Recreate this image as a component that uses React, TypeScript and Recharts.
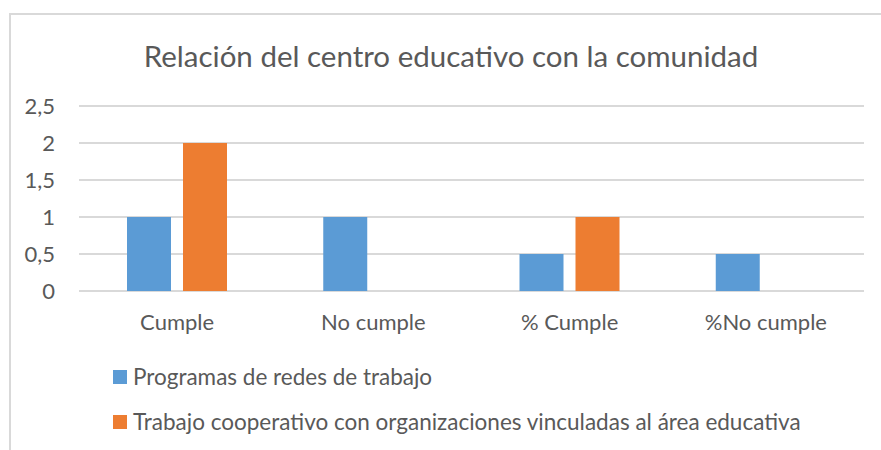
import { Bar, BarChart, CartesianGrid, XAxis, YAxis } from 'recharts'

const categories = ['Cumple', 'No cumple', '% Cumple', '%No cumple']
const programasRedes = [1, 1, 0.5, 0.5]
const trabajoCooperativo = [2, 0, 1, 0]
const yTicks = [0, 0.5, 1, 1.5, 2, 2.5]

const seriesNames = [
  'Programas de redes de trabajo',
  'Trabajo cooperativo con organizaciones vinculadas al área educativa',
]
const seriesColors = ['#5B9BD5', '#ED7D31']

const data = categories.map((name, i) => ({
  name,
  redes: programasRedes[i],
  cooperativo: trabajoCooperativo[i],
}))

const font = 'Lato, "Open Sans", sans-serif'
const textColor = '#595959'

const formatTick = (v: number) => String(v).replace('.', ',')

// legend drawn as plain html so it doesn't eat into the plot area
const LegendList = () => (
  <div
    style={{
      position: 'absolute',
      left: 113,
      top: 354,
      fontFamily: font,
      fontSize: 22.5,
      color: textColor,
    }}
  >
    {seriesNames.map((s, i) => (
      <div key={s} style={{ display: 'flex', alignItems: 'center', height: 45 }}>
        <span
          style={{
            display: 'inline-block',
            width: 14,
            height: 14,
            background: seriesColors[i],
            marginRight: 6,
          }}
        />
        <span>{s}</span>
      </div>
    ))}
  </div>
)

export default function App() {
  return (
    <div
      style={{
        position: 'absolute',
        left: 0,
        top: 0,
        width: 881,
        height: 450,
        overflow: 'hidden',
        background: '#fff',
      }}
    >
      <div
        style={{
          position: 'absolute',
          left: 9,
          top: 13,
          width: 900,
          height: 500,
          border: '2px solid #d9d9d9',
        }}
      />
      <div
        style={{
          position: 'absolute',
          left: 0,
          top: 38,
          width: 902,
          textAlign: 'center',
          fontFamily: font,
          fontSize: 29.5,
          color: textColor,
        }}
      >
        Relación del centro educativo con la comunidad
      </div>
      <BarChart
        width={881}
        height={450}
        data={data}
        margin={{ top: 106, right: 17, bottom: 119, left: 0 }}
        barSize={44}
        barGap={12}
        style={{ position: 'absolute', left: 0, top: 0 }}
      >
        <CartesianGrid vertical={false} stroke="#d9d9d9" strokeWidth={2} />
        <XAxis
          dataKey="name"
          height={40}
          interval={0}
          axisLine={false}
          tickLine={false}
          tickMargin={17}
          tick={{ fill: textColor, fontFamily: font, fontSize: 22 }}
        />
        <YAxis
          width={79}
          domain={[0, 2.5]}
          ticks={yTicks}
          interval={0}
          axisLine={false}
          tickLine={false}
          tickMargin={18}
          tickFormatter={formatTick}
          tick={{ fill: textColor, fontFamily: font, fontSize: 22 }}
        />
        <Bar dataKey="redes" name={seriesNames[0]} fill={seriesColors[0]} isAnimationActive={false} />
        <Bar dataKey="cooperativo" name={seriesNames[1]} fill={seriesColors[1]} isAnimationActive={false} />
      </BarChart>
      <LegendList />
    </div>
  )
}
